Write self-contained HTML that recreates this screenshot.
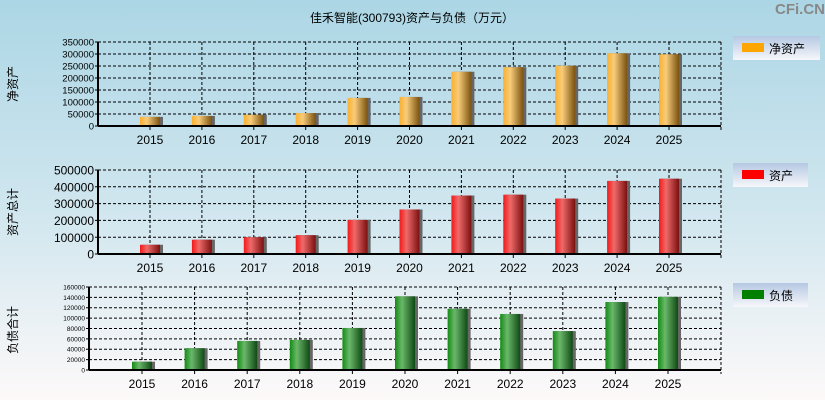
<!DOCTYPE html>
<html><head><meta charset="utf-8"><style>
body{margin:0;width:825px;height:400px;overflow:hidden;}
svg{display:block;font-family:"Liberation Sans","Noto Sans CJK SC",sans-serif;}
</style></head><body>
<svg id="c" width="825" height="400" xmlns="http://www.w3.org/2000/svg">
<defs>
<linearGradient id="bg" x1="0" y1="0" x2="0" y2="1"><stop offset="0" stop-color="#acd6e5"/><stop offset="0.55" stop-color="#d2e7ef"/><stop offset="1" stop-color="#fdf9f9"/></linearGradient>
<linearGradient id="gO" x1="0" x2="1"><stop offset="0" stop-color="#f9b030"/><stop offset="0.35" stop-color="#f8cc7a"/><stop offset="1" stop-color="#7a5210"/></linearGradient>
<linearGradient id="gR" x1="0" x2="1"><stop offset="0" stop-color="#f21818"/><stop offset="0.35" stop-color="#f06a6a"/><stop offset="1" stop-color="#7a1010"/></linearGradient>
<linearGradient id="gG" x1="0" x2="1"><stop offset="0" stop-color="#138a13"/><stop offset="0.35" stop-color="#6ab86a"/><stop offset="1" stop-color="#0f4a14"/></linearGradient>
<linearGradient id="lg" x1="0" y1="0" x2="0" y2="1"><stop offset="0" stop-color="#b5c8e2"/><stop offset="1" stop-color="#f6f7fb"/></linearGradient>
</defs>
<rect width="825" height="400" fill="url(#bg)"/>
<text x="412" y="22" font-size="12" text-anchor="middle">佳禾智能(300793)资产与负债（万元）</text>
<text x="800" y="14" font-size="15" font-weight="bold" fill="#888" text-anchor="middle">CFi.CN</text>
<g id="plots"></g>
</svg>
<script>
const years=['2015','2016','2017','2018','2019','2020','2021','2022','2023','2024','2025'];
const netAssets=[38000,42000,47000,54000,117000,121000,226000,245000,251000,303000,299000];
const totalAssets=[55000,85000,100000,112000,203000,265000,348000,353000,330000,435000,448000];
const liabilities=[16000,42000,56000,58000,81000,142000,118000,108000,75000,131000,141000];
const ticks1=[0,50000,100000,150000,200000,250000,300000,350000];
const ticks2=[0,100000,200000,300000,400000,500000];
const ticks3=[0,20000,40000,60000,80000,100000,120000,140000,160000];
const NS='http://www.w3.org/2000/svg';
const g=document.getElementById('plots');
function mk(t,a,p){const e=document.createElementNS(NS,t);for(const k in a)e.setAttribute(k,a[k]);(p||g).appendChild(e);return e;}
function panel(cfg){
  const {key,L,R,T,B,c0,step,vals,ticks,max,fill,yfs,ytitle,leg,legW,legY,legColor,ty}=cfg;
  const grp=mk('g',{});
  
  
  const y=v=>B-(v/max)*(B-T);
  const x=i=>c0+i*step;
  ticks.forEach(t=>{
    if(t>0){const l=mk('line',{x1:L,x2:R,y1:y(t),y2:y(t),stroke:'#000','stroke-dasharray':'3,2'},grp);
      }
    const tx=mk('text',{x:L-4,y:y(t)+yfs*0.38,'font-size':yfs,'text-anchor':'end'},grp);tx.textContent=t;
    
    mk('line',{x1:L-3,x2:L,y1:y(t),y2:y(t),stroke:'#000'},grp);
  });
  years.forEach((yr,i)=>{
    const l=mk('line',{x1:x(i),x2:x(i),y1:T,y2:B,stroke:'#000','stroke-dasharray':'3,2'},grp);
    
    mk('line',{x1:x(i),x2:x(i),y1:B,y2:B+4,stroke:'#000'},grp);
    const tx=mk('text',{x:x(i),y:B+18,'font-size':12,'text-anchor':'middle'},grp);tx.textContent=yr;
    
  });
  mk('line',{x1:R,x2:R,y1:T,y2:B+4,stroke:'#000','stroke-dasharray':'3,2'},grp);
  mk('line',{x1:L,x2:R,y1:T,y2:T,stroke:'#000','stroke-dasharray':'3,2'},grp);
  vals.forEach((v,i)=>{
    mk('rect',{x:x(i)-10+2,y:y(v),width:21,height:B-y(v),fill:'#666'},grp);
    const r=mk('rect',{x:x(i)-10,y:y(v),width:20,height:B-y(v),fill:fill},grp);
    
  });
  mk('line',{x1:L,x2:L,y1:T,y2:B,stroke:'#000','stroke-width':2},grp);
  mk('line',{x1:L,x2:R,y1:B,y2:B,stroke:'#000','stroke-width':2},grp);
  const at=mk('text',{x:0,y:0,'font-size':12,'text-anchor':'middle',transform:`translate(17,${ty}) rotate(-90)`},grp);at.textContent=ytitle;
  
  const lgG=mk('g',{},grp);
  
  mk('rect',{x:733,y:legY,width:legW,height:24,fill:'url(#lg)'},lgG);
  mk('rect',{x:742,y:legY+7,width:22,height:9,fill:legColor},lgG);
  const lt=mk('text',{x:769,y:legY+17,'font-size':12},lgG);lt.textContent=leg;
}
panel({key:'net-assets',L:98,R:721,T:42,B:126,c0:150,step:51.9,vals:netAssets,ticks:ticks1,max:350000,fill:'url(#gO)',yfs:9.5,ytitle:'净资产',leg:'净资产',legW:87,legY:36,legColor:'#ffa500',ty:84});
panel({key:'total-assets',L:98,R:721,T:170,B:254,c0:150,step:51.9,vals:totalAssets,ticks:ticks2,max:500000,fill:'url(#gR)',yfs:12,ytitle:'资产总计',leg:'资产',legW:75,legY:163,legColor:'#ff0000',ty:212});
panel({key:'liabilities',L:89,R:721,T:287,B:370,c0:142,step:52.6,vals:liabilities,ticks:ticks3,max:160000,fill:'url(#gG)',yfs:6.5,ytitle:'负债合计',leg:'负债',legW:75,legY:283,legColor:'#008000',ty:330});
</script>
</body></html>
